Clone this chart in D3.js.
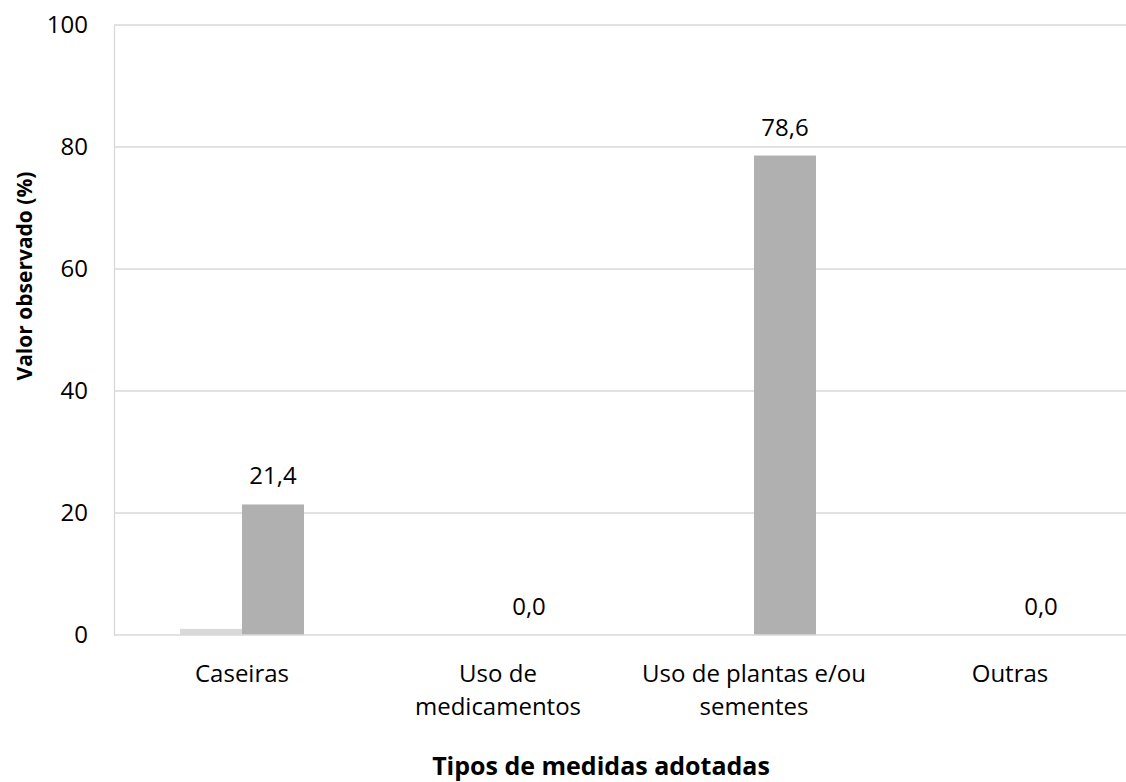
<!DOCTYPE html>
<html><head><meta charset="utf-8">
<script src="https://cdn.jsdelivr.net/npm/d3@7"></script>
<style>body{margin:0;background:#fff}svg{display:block}text{font-family:"Open Sans",sans-serif;fill:#000}</style>
</head><body><div id="c"></div>
<script>
const categories = ["Caseiras", "Uso de medicamentos", "Uso de plantas e/ou sementes", "Outras"];
const categoryLines = [["Caseiras"], ["Uso de", "medicamentos"], ["Uso de plantas e/ou", "sementes"], ["Outras"]];
const seriesA = [1.0, 0, 0, 0];
const seriesB = [21.4, 0.0, 78.6, 0.0];
const yTicks = [0, 20, 40, 60, 80, 100];
const yTitle = "Valor observado (%)";
const xTitle = "Tipos de medidas adotadas";

(function () {
const W = 1126, H = 782;
const mLeft = 114, mTop = 25, mBottom = 635, catW = 256;
const FS = 24;
const svg = d3.select("#c").append("svg").attr("width", W).attr("height", H);

const x = d3.scaleBand().domain(categories).range([mLeft, mLeft + catW * categories.length]).paddingInner(0).paddingOuter(0);
const y = d3.scaleLinear().domain([0, 100]).range([mBottom, mTop]);
const barW = 62;

// gridlines
svg.append("g").selectAll("line").data(yTicks.filter(d => d > 0)).join("line")
  .attr("x1", mLeft).attr("x2", W).attr("y1", d => y(d)).attr("y2", d => y(d))
  .attr("stroke", "#d9d9d9").attr("stroke-width", 1.3);

// y axis
const yAxis = d3.axisLeft(y).tickValues(yTicks).tickSize(0).tickPadding(26);
const gy = svg.append("g").attr("transform", `translate(${mLeft},0)`).call(yAxis);
gy.select(".domain").attr("stroke", "#d9d9d9").attr("stroke-width", 1.3);
gy.selectAll("text").attr("font-size", FS).attr("font-family", "'Open Sans', sans-serif").attr("fill", "#000");

// bars
const cx = c => x(c) + x.bandwidth() / 2;
svg.append("g").selectAll("rect").data(categories.map((c, i) => ({c, v: seriesA[i]}))).join("rect")
  .attr("x", d => cx(d.c) - barW).attr("width", barW)
  .attr("y", d => y(d.v)).attr("height", d => y(0) - y(d.v)).attr("fill", "#d9d9d9");
svg.append("g").selectAll("rect").data(categories.map((c, i) => ({c, v: seriesB[i]}))).join("rect")
  .attr("x", d => cx(d.c)).attr("width", barW)
  .attr("y", d => y(d.v)).attr("height", d => y(0) - y(d.v)).attr("fill", "#b0b0b0");

// x axis line
svg.append("line").attr("x1", mLeft).attr("x2", W).attr("y1", mBottom).attr("y2", mBottom)
  .attr("stroke", "#d9d9d9").attr("stroke-width", 1.3);

// value labels
svg.append("g").selectAll("text").data(categories.map((c, i) => ({c, v: seriesB[i]}))).join("text")
  .attr("x", d => cx(d.c) + barW / 2).attr("y", d => y(d.v) - 20)
  .attr("text-anchor", "middle").attr("font-size", FS)
  .text(d => d3.format(".1f")(d.v).replace(".", ","));

// category labels
const lab = svg.append("g").selectAll("text").data(categories.map((c, i) => ({c, lines: categoryLines[i]}))).join("text")
  .attr("x", d => cx(d.c)).attr("y", 682).attr("text-anchor", "middle").attr("font-size", FS);
lab.selectAll("tspan").data(d => d.lines.map(l => ({l, c: d.c}))).join("tspan")
  .attr("x", d => cx(d.c)).attr("dy", (d, i) => i === 0 ? 0 : 33).text(d => d.l);

// titles
svg.append("text").attr("x", 601).attr("y", 775).attr("text-anchor", "middle")
  .attr("font-size", 25).attr("font-weight", "bold").text(xTitle);
svg.append("text").attr("transform", `translate(32,276) rotate(-90)`)
  .attr("text-anchor", "middle").attr("font-size", 21).attr("font-weight", "bold").text(yTitle);
})();
</script></body></html>
